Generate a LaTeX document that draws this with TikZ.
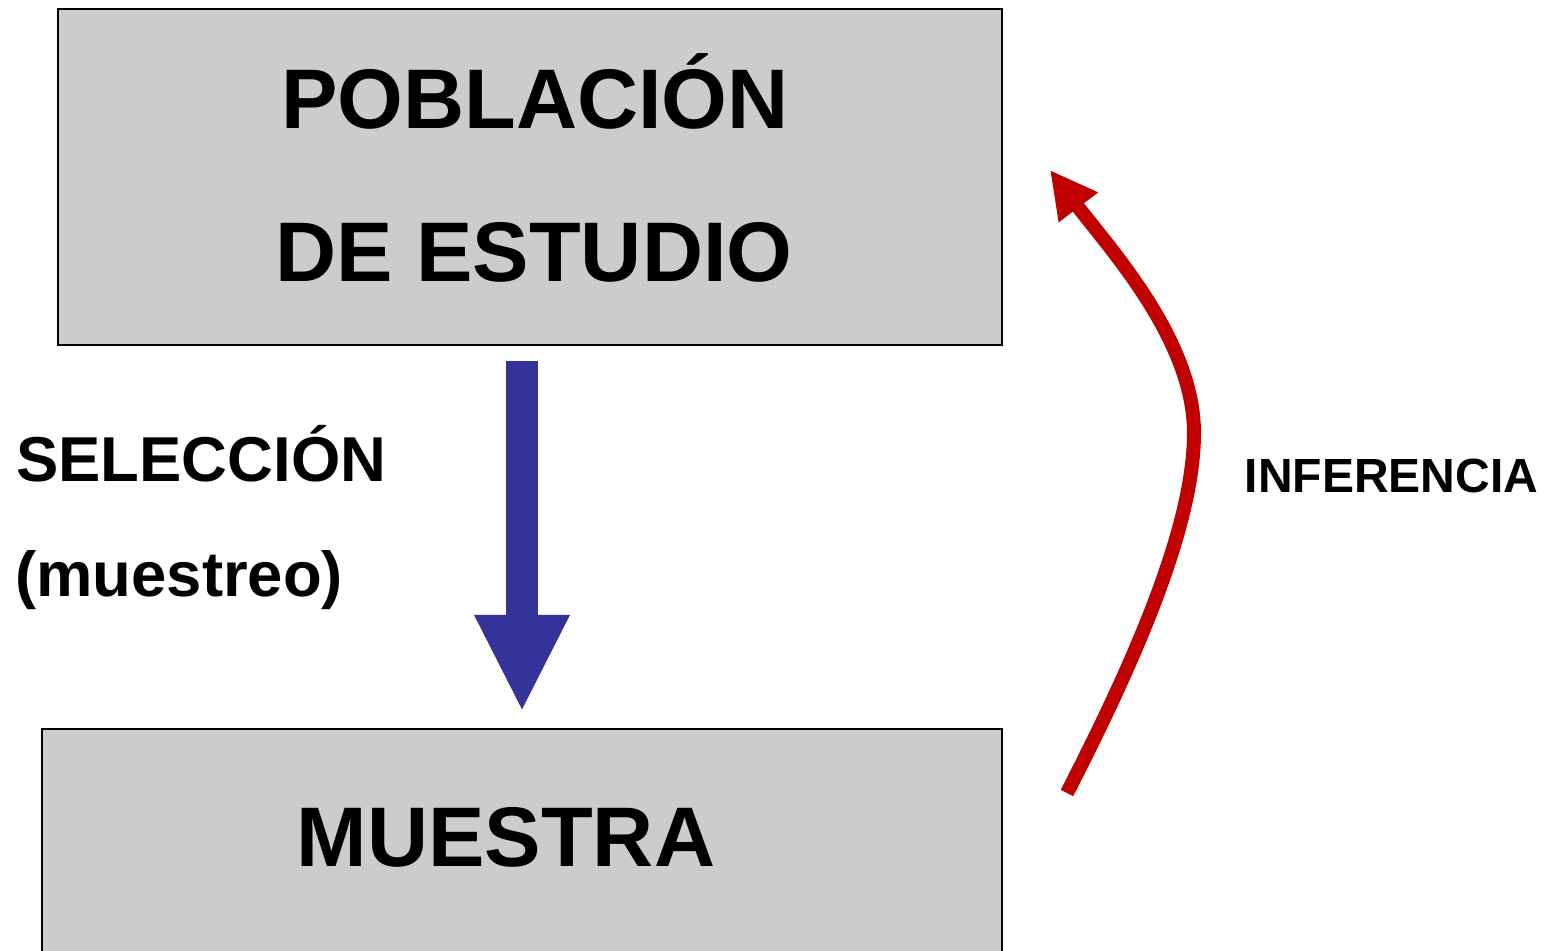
\documentclass[tikz,border=0pt]{standalone}
\usepackage{fontspec}
\setmainfont{Liberation Sans}
\usetikzlibrary{arrows.meta}
\definecolor{boxgray}{HTML}{CCCCCC}
\definecolor{selblue}{HTML}{333399}
\definecolor{infred}{HTML}{C00000}
\tikzset{
  box/.style={draw=black, line width=1pt, fill=boxgray, inner sep=0pt, outer sep=0pt},
  bigtxt/.style={font=\fontsize{42.3}{50}\selectfont\bfseries, inner sep=0pt, anchor=base},
  midtxt/.style={font=\fontsize{31.7}{38}\selectfont\bfseries, inner sep=0pt, anchor=base west},
  smalltxt/.style={font=\fontsize{24}{30}\selectfont\bfseries, inner sep=0pt, anchor=base},
  selarrow/.style={draw=selblue, line width=16pt, -{Triangle[length=48.5pt, width=44pt]}},
  infarrow/.style={draw=infred, line width=7pt, -{Triangle[length=23.5pt, width=23pt]}}
}
\begin{document}
\begin{tikzpicture}[x=0.5pt, y=-0.5pt]
  \clip (0,0) rectangle (1554,951);
  \fill[white] (0,0) rectangle (1554,951);
  % boxes
  \node[box, minimum width=472pt, minimum height=168pt] (pobox) at (530,177) {};
  \node[box, minimum width=480pt, minimum height=130.5pt] (muebox) at (522,859.5) {};
  % texts
  \node[bigtxt] (pob1) at (535,129) {POBLACIÓN};
  \node[bigtxt] (pob2) at (534,282) {DE ESTUDIO};
  \node[bigtxt] (mue) at (506,866) {MUESTRA};
  \node[midtxt] (sel) at (16,482) {SELECCIÓN};
  \node[midtxt] (mst) at (15,597) {(muestreo)};
  \node[smalltxt] (inf) at (1391.5,493) {INFERENCIA};
  % connectors
  \coordinate (selstart) at (522,361);
  \coordinate (selend) at (522,712);
  \draw[selarrow] (selstart) -- (selend);
  \coordinate (infstart) at (1067,793);
  \coordinate (infmid) at (1194,433);
  \coordinate (inftip) at (1050,170);
  \draw[infarrow] (infstart) .. controls (1130,670) and (1194,530) .. (infmid)
     .. controls (1194,340) and (1110,249) .. (inftip);
\end{tikzpicture}
\end{document}
